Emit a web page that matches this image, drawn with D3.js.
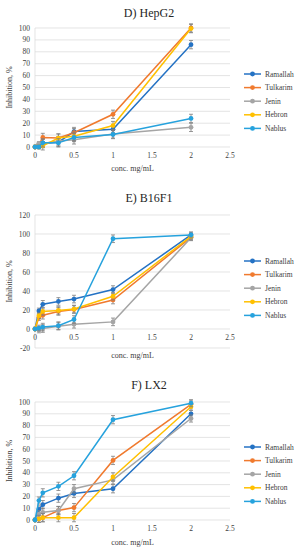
<!DOCTYPE html>
<html>
<head>
<meta charset="utf-8">
<script src="https://cdn.jsdelivr.net/npm/d3@7"></script>
<style>
  body { margin: 0; background: #fff; }
  text { font-family: "Liberation Serif", "DejaVu Serif", serif; fill: #404040; }
</style>
</head>
<body>
<div id="chart"></div>
<script>
const conc = [0, 0.05, 0.1, 0.3, 0.5, 1, 2];
const regions = ["Ramallah", "Tulkarim", "Jenin", "Hebron", "Nablus"];
const colors = ["#2472C4", "#F07A2E", "#A5A5A5", "#FFC000", "#26A2DD"];

// D) HepG2
const hepg2 = [
  [0, 2, 3, 4, 13, 15, 86],
  [0, 2, 8, 7.5, 12, 27.5, 100],
  [0, 3, 3, 5, 6, 11, 16.5],
  [0, 0, 1, 7.5, 9, 18, 99.5],
  [0, 0, 3.5, 3.5, 8, 10.5, 24]
];
const hepg2Err = [0, 1.5, 3.5, 3.5, 3.5, 3.5, 3.5];

// E) B16F1
const b16f1 = [
  [0, 19, 26, 29, 31.5, 41.5, 99],
  [0, 12, 14.5, 18.5, 20.5, 30.5, 96.5],
  [0, -1, 0.5, 3, 5, 7.5, 96],
  [0, 14, 18.5, 19.5, 21, 34.5, 97.5],
  [0, 1, 2, 3.5, 10, 95, 99]
];
const b16f1Err = [0, 3, 4, 4, 4, 4, 3];

// F) LX2
const lx2 = [
  [0, 9, 13, 18.5, 22.5, 26.5, 90],
  [0, 1, 2, 8, 10.5, 50.5, 98],
  [0, 5, 6.5, 8, 26.5, 34, 86],
  [0, 1, 2, 2, 2, 36.5, 96],
  [0, 16.5, 23, 28.5, 37.5, 85, 99]
];
const lx2Err = [0, 3, 3.5, 3.5, 3.5, 3.5, 3];

const xTicks = [0, 0.5, 1, 1.5, 2, 2.5];

const panels = [
  { title: "D) HepG2", values: hepg2, err: hepg2Err, yDomain: [0, 100], yStep: 10,
    top: 28, bottom: 147, titleY: 17, labelY: 171, legendTop: 74 },
  { title: "E) B16F1", values: b16f1, err: b16f1Err, yDomain: [-20, 120], yStep: 20,
    top: 215, bottom: 348, titleY: 202, labelY: 358, legendTop: 261 },
  { title: "F) LX2", values: lx2, err: lx2Err, yDomain: [0, 100], yStep: 10,
    top: 402, bottom: 520, titleY: 389, labelY: 545, legendTop: 447 }
];

const svg = d3.select("#chart")
  .append("svg")
  .attr("width", 300)
  .attr("height", 550);

const left = 35, right = 230;

panels.forEach(p => {
  const g = svg.append("g");

  const x = d3.scaleLinear().domain([0, 2.5]).range([left, right]);
  const y = d3.scaleLinear().domain(p.yDomain).range([p.bottom, p.top]);
  const yTicks = d3.range(p.yDomain[0], p.yDomain[1] + 0.01, p.yStep);

  // gridlines
  g.selectAll(".grid")
    .data(yTicks)
    .enter().append("line")
    .attr("x1", left).attr("x2", right)
    .attr("y1", d => y(d)).attr("y2", d => y(d))
    .attr("stroke", "#d9d9d9")
    .attr("stroke-width", 0.7);

  // vertical axis line
  g.append("line")
    .attr("x1", x(0)).attr("x2", x(0))
    .attr("y1", p.top).attr("y2", p.bottom)
    .attr("stroke", "#d9d9d9")
    .attr("stroke-width", 0.7);

  // y tick labels
  g.selectAll(".ylab")
    .data(yTicks)
    .enter().append("text")
    .attr("x", left - 5)
    .attr("y", d => y(d) + 2.5)
    .attr("text-anchor", "end")
    .attr("font-size", 7.5)
    .text(d => d);

  // x tick labels, placed under the zero line
  g.selectAll(".xlab")
    .data(xTicks)
    .enter().append("text")
    .attr("x", d => x(d))
    .attr("y", y(0) + 11)
    .attr("text-anchor", "middle")
    .attr("font-size", 7.5)
    .text(d => d);

  // titles
  g.append("text")
    .attr("x", 149).attr("y", p.titleY)
    .attr("text-anchor", "middle")
    .attr("font-size", 12)
    .style("fill", "#262626")
    .text(p.title);

  g.append("text")
    .attr("x", (left + right) / 2).attr("y", p.labelY)
    .attr("text-anchor", "middle")
    .attr("font-size", 8)
    .text("conc. mg/mL");

  g.append("text")
    .attr("transform", `translate(12,${(p.top + p.bottom) / 2}) rotate(-90)`)
    .attr("text-anchor", "middle")
    .attr("font-size", 8)
    .text("Inhibition, %");

  const line = d3.line()
    .x((d, i) => x(conc[i]))
    .y(d => y(d));

  p.values.forEach((vals, s) => {
    // error bars
    const eb = g.append("g");
    vals.forEach((v, i) => {
      const e = p.err[i];
      if (!e) return;
      const cx = x(conc[i]);
      eb.append("line")
        .attr("x1", cx).attr("x2", cx)
        .attr("y1", y(v - e)).attr("y2", y(v + e))
        .attr("stroke", "#7f7f7f").attr("stroke-width", 0.8);
      [v - e, v + e].forEach(t => {
        eb.append("line")
          .attr("x1", cx - 2).attr("x2", cx + 2)
          .attr("y1", y(t)).attr("y2", y(t))
          .attr("stroke", "#7f7f7f").attr("stroke-width", 0.8);
      });
    });

    g.append("path")
      .datum(vals)
      .attr("fill", "none")
      .attr("stroke", colors[s])
      .attr("stroke-width", 1.5)
      .attr("d", line);

    g.selectAll(".pt" + s)
      .data(vals)
      .enter().append("circle")
      .attr("cx", (d, i) => x(conc[i]))
      .attr("cy", d => y(d))
      .attr("r", 2.4)
      .attr("fill", colors[s]);
  });

  // legend
  const leg = g.selectAll(".leg")
    .data(regions)
    .enter().append("g")
    .attr("transform", (d, i) => `translate(244,${p.legendTop + i * 13.6})`);

  leg.append("line")
    .attr("x1", 0).attr("x2", 17)
    .attr("stroke", (d, i) => colors[i])
    .attr("stroke-width", 1.5);

  leg.append("circle")
    .attr("cx", 8.5)
    .attr("r", 2.4)
    .attr("fill", (d, i) => colors[i]);

  leg.append("text")
    .attr("x", 21)
    .attr("y", 2.6)
    .attr("font-size", 7.5)
    .text(d => d);
});
</script>
</body>
</html>
